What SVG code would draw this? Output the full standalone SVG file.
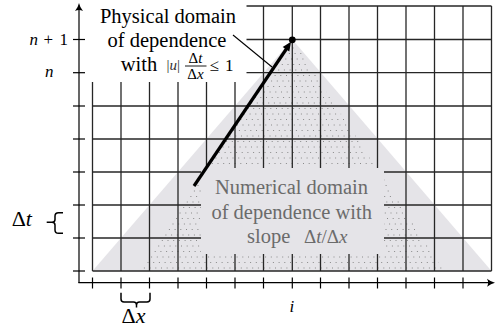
<svg xmlns="http://www.w3.org/2000/svg" width="495" height="328" viewBox="0 0 495 328">
<style>
.grid line{stroke:#262626;stroke-width:1.3}
.ax{stroke:#000;stroke-width:1.2;fill:none}
.tk{stroke:#000;stroke-width:1.2}
.g{fill:#6b6b6b}
.it{font-style:italic}
</style>

<g id="numerical-domain">
<polygon points="292.3,39.5 92.5,271 491.5,271" fill="#e5e4e8"/>
</g>
<g id="physical-domain" stroke="#8a8a8a" stroke-width="1" stroke-dasharray="1 4.7" fill="none">
<path d="M290.4,42.5H294.3M286.8,48H297.9M283.2,53.5H301.5M279.6,59H305.1M276.1,64.5H308.7M272.5,70H312.3M268.9,75.5H315.9M265.4,81H319.5M261.8,86.5H323.1M258.2,92H326.7M254.6,97.5H330.3M251.1,103H333.9M247.5,108.5H337.5M243.9,114H341.1M240.4,119.5H344.7M236.8,125H348.3M233.2,130.5H351.9M229.6,136H355.5M226.1,141.5H359.1M222.5,147H362.7M218.9,152.5H366.3M215.4,158H369.9M211.8,163.5H373.6M208.2,169H377.2M204.6,174.5H380.8M201.1,180H384.4M197.5,185.5H388M193.9,191H391.6M190.4,196.5H395.2M186.8,202H398.8M183.2,207.5H402.4M179.6,213H406M176.1,218.5H409.6M172.5,224H413.2M168.9,229.5H416.8M165.4,235H420.4M161.8,240.5H424M158.2,246H427.6M154.7,251.5H431.2M151.1,257H434.8M147.5,262.5H438.4M143.9,268H442"/>
</g>

<g id="grid" class="grid">
<line x1="92.5" y1="6" x2="92.5" y2="271"/>
<line x1="121" y1="6" x2="121" y2="271"/>
<line x1="149.5" y1="6" x2="149.5" y2="271"/>
<line x1="178" y1="6" x2="178" y2="271"/>
<line x1="206.5" y1="6" x2="206.5" y2="271"/>
<line x1="235" y1="6" x2="235" y2="271"/>
<line x1="263.5" y1="6" x2="263.5" y2="271"/>
<line x1="292.3" y1="6" x2="292.3" y2="271"/>
<line x1="320.5" y1="6" x2="320.5" y2="271"/>
<line x1="349" y1="6" x2="349" y2="271"/>
<line x1="377.5" y1="6" x2="377.5" y2="271"/>
<line x1="406" y1="6" x2="406" y2="271"/>
<line x1="434.5" y1="6" x2="434.5" y2="271"/>
<line x1="463" y1="6" x2="463" y2="271"/>
<line x1="491.5" y1="6" x2="491.5" y2="271"/>
<line x1="92.5" y1="6" x2="491.5" y2="6"/>
<line x1="92.5" y1="39.5" x2="491.5" y2="39.5"/>
<line x1="92.5" y1="72.7" x2="491.5" y2="72.7"/>
<line x1="92.5" y1="106" x2="491.5" y2="106"/>
<line x1="92.5" y1="139" x2="491.5" y2="139"/>
<line x1="92.5" y1="172" x2="491.5" y2="172"/>
<line x1="92.5" y1="205" x2="491.5" y2="205"/>
<line x1="92.5" y1="238" x2="491.5" y2="238"/>
<line x1="92.5" y1="271" x2="491.5" y2="271" style="stroke-width:1.6"/>
</g>

<g id="label-boxes">
<rect x="86" y="0" width="160.5" height="82" fill="#fff"/>
<rect x="201" y="168" width="183" height="86" fill="#e5e4e8"/>
</g>

<g id="axes">
<line class="ax" x1="79" y1="283" x2="79" y2="7"/>
<path d="M79,3 Q79.8,7 83,11 Q79,8.8 75,11 Q78.2,7 79,3Z" fill="#000"/>
<line class="ax" x1="78.4" y1="282.7" x2="491" y2="282.7"/>
<path d="M495,282.7 Q491,281.9 487,278.7 Q489.2,282.7 487,286.7 Q491,283.5 495,282.7Z" fill="#000"/>
<g class="tk">
<line x1="73" y1="39.5" x2="85" y2="39.5"/>
<line x1="73" y1="72.7" x2="85" y2="72.7"/>
<line x1="73" y1="106" x2="85" y2="106"/>
<line x1="73" y1="139" x2="85" y2="139"/>
<line x1="73" y1="172" x2="85" y2="172"/>
<line x1="73" y1="205" x2="85" y2="205"/>
<line x1="73" y1="238" x2="85" y2="238"/>
<line x1="73" y1="271" x2="85" y2="271"/>
<line x1="92.5" y1="277.5" x2="92.5" y2="288.5"/>
<line x1="121" y1="277.5" x2="121" y2="288.5"/>
<line x1="149.5" y1="277.5" x2="149.5" y2="288.5"/>
<line x1="178" y1="277.5" x2="178" y2="288.5"/>
<line x1="206.5" y1="277.5" x2="206.5" y2="288.5"/>
<line x1="235" y1="277.5" x2="235" y2="288.5"/>
<line x1="263.5" y1="277.5" x2="263.5" y2="288.5"/>
<line x1="292.3" y1="277.5" x2="292.3" y2="288.5"/>
<line x1="320.5" y1="277.5" x2="320.5" y2="288.5"/>
<line x1="349" y1="277.5" x2="349" y2="288.5"/>
<line x1="377.5" y1="277.5" x2="377.5" y2="288.5"/>
<line x1="406" y1="277.5" x2="406" y2="288.5"/>
<line x1="434.5" y1="277.5" x2="434.5" y2="288.5"/>
<line x1="463" y1="277.5" x2="463" y2="288.5"/>
</g>
</g>

<g id="connectors">
<line x1="233" y1="35" x2="272" y2="67" stroke="#000" stroke-width="1.1"/>
<line x1="194" y1="186" x2="287" y2="48" stroke="#000" stroke-width="3.2"/>
<path d="M291,41.7 L289.3,51.4 L282.7,47Z" fill="#000"/>
<circle cx="292.3" cy="39.8" r="3.4" fill="#000"/>
</g>

<g id="braces" fill="none" stroke="#000" stroke-width="1.5">
<path d="M63,212.7 H58.5 Q55,212.7 55,216 V219.5 Q55,222.3 52,222.3 H46.7 M52,222.3 Q55,222.3 55,225.3 V230 Q55,233.3 58.5,233.3 H63"/>
<path d="M121,292.7 V299 Q121,302 124,302 H133.5 Q136.5,302 136.5,305 V307.5 M136.5,305 Q136.5,302 139.5,302 H147 Q150,302 150,299 V292.7"/>
</g>

<g id="labels" fill="#000">
<text font-family="Liberation Serif" x="29.5" y="45" font-size="17"><tspan class="it">n</tspan><tspan x="43.5">+</tspan><tspan x="59.5">1</tspan></text>
<text font-family="Liberation Serif" x="45" y="76.7" font-size="17" class="it">n</text>
<text font-family="Liberation Serif" x="289.5" y="311.7" font-size="17" class="it">i</text>
<text font-family="Liberation Serif" x="11.7" y="226" font-size="22">Δ<tspan class="it">t</tspan></text>
<text font-family="Liberation Serif" x="121.5" y="323.3" font-size="22">Δ<tspan class="it">x</tspan></text>
</g>

<g id="physical-text" fill="#000">
<text font-family="Liberation Serif" font-size="20.5" x="168" y="22.7" text-anchor="middle">Physical domain</text>
<text font-family="Liberation Serif" font-size="20.5" x="167" y="46.7" text-anchor="middle">of dependence</text>
<text font-family="Liberation Serif" font-size="20.5" x="120.7" y="70.7">with</text>
<text font-family="Liberation Serif" x="166.5" y="69.5" font-size="15" fill="#333">|<tspan class="it">u</tspan>|</text>
<text font-family="Liberation Serif" x="195.5" y="63.3" font-size="15" text-anchor="middle">Δ<tspan class="it">t</tspan></text>
<line x1="185" y1="66" x2="206.5" y2="66" stroke="#000" stroke-width="0.9"/>
<text font-family="Liberation Serif" x="195.5" y="78.5" font-size="15" text-anchor="middle">Δ<tspan class="it">x</tspan></text>
<text font-family="Liberation Serif" x="209.5" y="70.7" font-size="17">≤</text>
<text font-family="Liberation Serif" x="225" y="70.7" font-size="17">1</text>
</g>

<g id="numerical-text" class="g">
<text font-family="Liberation Serif" font-size="20.5" x="291.5" y="194" text-anchor="middle">Numerical domain</text>
<text font-family="Liberation Serif" font-size="20.5" x="291.7" y="219" text-anchor="middle">of dependence with</text>
<text font-family="Liberation Serif" font-size="20.5" x="247" y="243.3">slope</text>
<text font-family="Liberation Serif" x="304" y="243.3" font-size="19">Δ<tspan class="it">t</tspan>/Δ<tspan class="it">x</tspan></text>
</g>
</svg>
